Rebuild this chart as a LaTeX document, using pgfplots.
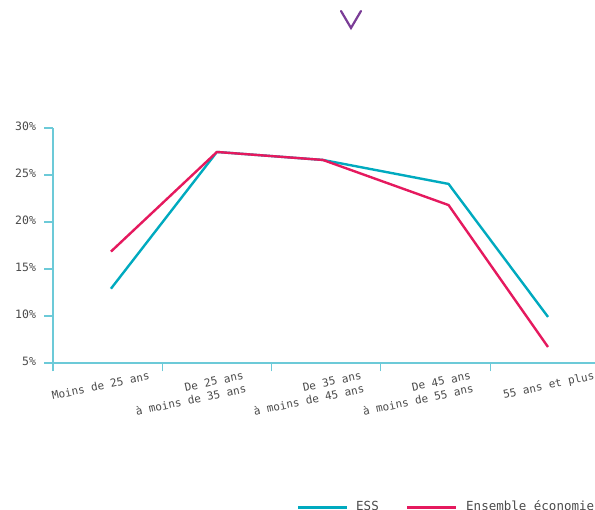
\documentclass[border=0pt]{standalone}
\usepackage{fontspec}
\setmainfont{DejaVu Sans Mono}
\usepackage{pgfplots}
\pgfplotsset{compat=1.18}

\definecolor{ess}{HTML}{00AABF}
\definecolor{ensemble}{HTML}{E5195E}
\definecolor{axiscol}{HTML}{6CCAD8}
\definecolor{txt}{HTML}{4A4A4A}
\definecolor{chevron}{HTML}{7A3C96}

\begin{document}
\begin{tikzpicture}[x=1pt,y=1pt]
\path[use as bounding box] (0,0) rectangle (595,510);

% chevron at the top
\draw[chevron, line width=2.2pt, line cap=round, line join=miter] (341,499) -- (351,482) -- (361,499);

\begin{axis}[
    at={(53pt,147pt)}, anchor=south west,
    scale only axis,
    width=542pt, height=235pt,
    xmin=0, xmax=4.96,
    ymin=5, ymax=30,
    axis lines=left,
    axis line style={-, axiscol, line width=1.3pt},
    tick style={axiscol, line width=1.1pt},
    tick align=outside,
    major tick length=8.5pt,
    xtick={0,1,2,3,4},
    xticklabels={},
    ytick={5,10,15,20,25,30},
    yticklabel={\pgfmathprintnumber{\tick}\%},
    /pgf/number format/assume math mode=true,
    yticklabel style={font=\fontsize{11.5}{13}\selectfont, text=txt, xshift=-5pt, yshift=2pt},
    extra x ticks={0.89,1.75,2.83,3.83,4.96},
    extra x tick labels={Moins de 25 ans, {De 25 ans\\à moins de 35 ans}, {De 35 ans\\à moins de 45 ans}, {De 45 ans\\à moins de 55 ans}, 55 ans et plus},
    extra x tick style={
        major tick length=0pt,
        tick label style={font=\fontsize{11}{13.5}\selectfont, text=txt, rotate=12, anchor=north east, align=right, yshift=-4pt}
    },
    clip=false,
]
% ESS
\addplot[ess, line width=2.4pt, line join=round] coordinates {
    (0.53,12.9) (1.50,27.45) (2.47,26.6) (3.62,24.05) (4.53,9.9)
};
% Ensemble economie
\addplot[ensemble, line width=2.4pt, line join=round] coordinates {
    (0.53,16.85) (1.50,27.45) (2.47,26.6) (3.62,21.8) (4.53,6.7)
};
\end{axis}

% legend
\draw[ess, line width=3pt] (298,2) -- (347,2);
\node[anchor=base west, inner sep=0pt, text=txt, font=\fontsize{12.5}{14}\selectfont] at (356,-0.5) {ESS};
\draw[ensemble, line width=3pt] (407,2) -- (456,2);
\node[anchor=base west, inner sep=0pt, text=txt, font=\fontsize{12.5}{14}\selectfont] at (466,-0.5) {Ensemble économie};
\end{tikzpicture}
\end{document}
